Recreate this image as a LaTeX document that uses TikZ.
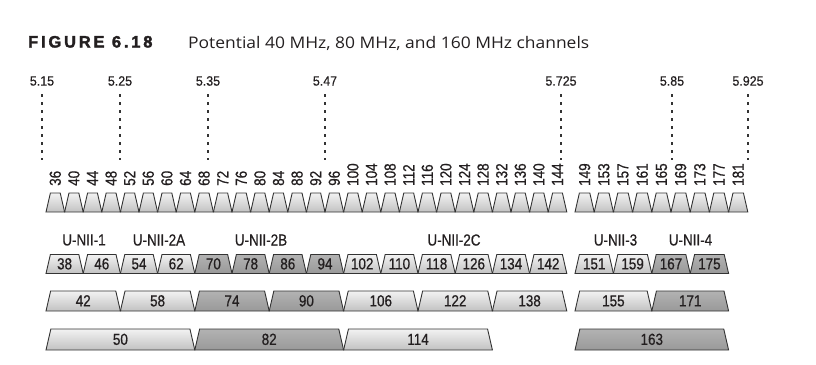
\documentclass[tikz,border=0pt]{standalone}
\usepackage{fontspec}
\setmainfont{Liberation Sans}
\newfontfamily\condfont{Liberation Sans}[FakeStretch=0.84,FakeBold=0.6]
\newfontfamily\freqfont{Liberation Sans}[FakeStretch=0.92,FakeBold=0.4]
\newfontfamily\capfont{Open Sans}[FakeStretch=1.09]
\newfontfamily\figfont{Liberation Sans}[LetterSpace=17,FakeBold=2]
\usetikzlibrary{shapes.geometric,positioning}

\definecolor{edgegray}{HTML}{333333}
\definecolor{inkgray}{HTML}{231F20}

\tikzset{
  chan/.style={trapezium, trapezium stretches body,
    trapezium left angle=77, trapezium right angle=77,
    draw=edgegray, line width=0.9pt, inner sep=0pt, outer sep=0pt,
    anchor=bottom left corner, text=inkgray,
    font=\condfont\fontsize{16}{16}\selectfont},
  row19/.style={text height=14.85pt, text depth=4.15pt},
  row20/.style={text height=15.35pt, text depth=4.65pt},
  row21/.style={text height=15.85pt, text depth=5.15pt},
  lite/.style={top color=black!5, bottom color=black!24},
  dfs/.style={top color=black!30, bottom color=black!40},
  chnum/.style={rotate=90, anchor=west, inner sep=0pt, text=inkgray,
    font=\condfont\fontsize{16}{16}\selectfont},
  band/.style={text=inkgray, inner sep=0pt,
    font=\condfont\fontsize{16}{16}\selectfont},
  freq/.style={text=inkgray, inner sep=0pt,
    font=\freqfont\fontsize{13.5}{14}\selectfont},
  freqline/.style={draw=edgegray, line width=1.3pt, dash pattern=on 3pt off 5pt}
}

\begin{document}
\begin{tikzpicture}[x=1pt,y=-1pt]
\useasboundingbox (0,0) rectangle (816,364);

% caption
\node[anchor=base west, inner sep=0pt, text=inkgray,
  font=\figfont\bfseries\fontsize{16.5}{17}\selectfont] (fig) at (28,47.5) {FIGURE 6.18};
\node[anchor=base west, inner sep=0pt, text=inkgray,
  font=\capfont\fontsize{16}{17}\selectfont] (cap) at (188,48) {Potential 40 MHz, 80 MHz, and 160 MHz channels};

% band edges in GHz
\foreach \x/\f in {42/5.15,120/5.25,208/5.35,325/5.47,561/5.725,672/5.85,748/5.925} {
  \node[freq] (f\x) at (\x,81) {\f};
  \draw[freqline] (\x,94) -- (\x,160);
}

% 20 MHz
\foreach \c [count=\i from 0] in {36,40,...,144} {
  \node[chan, lite, row19, minimum width=18.6pt] (a\c) at ({46+18.6*\i},212) {};
  \node[chnum] (n\c) at ([yshift=7pt]a\c.north) {\c};
}
\foreach \c [count=\i from 0] in {149,153,...,181} {
  \node[chan, lite, row19, minimum width=19.2pt] (a\c) at ({575+19.2*\i},212) {};
  \node[chnum] (n\c) at ([yshift=7pt]a\c.north) {\c};
}

% U-NII bands
\node[band] (u1) at (84,240) {U-NII-1};
\node[band] (u2a) at (159,240) {U-NII-2A};
\node[band] (u2b) at (261,240) {U-NII-2B};
\node[band] (u2c) at (454,240) {U-NII-2C};
\node[band] (u3) at (615.5,240) {U-NII-3};
\node[band] (u4) at (690.5,240) {U-NII-4};

% 40 MHz
\foreach \c/\s [count=\i from 0] in {38/lite,46/lite,54/lite,62/lite,70/dfs,78/dfs,86/dfs,94/dfs,
    102/lite,110/lite,118/lite,126/lite,134/lite,142/lite}
  \node[chan, \s, row19, minimum width=37.2pt] (b\c) at ({46+37.2*\i},273.5) {\c};
\foreach \c/\s [count=\i from 0] in {151/lite,159/lite,167/dfs,175/dfs}
  \node[chan, \s, row19, minimum width=38.4pt] (b\c) at ({575+38.4*\i},273.5) {\c};

% 80 MHz
\foreach \c/\s [count=\i from 0] in {42/lite,58/lite,74/dfs,90/dfs,106/lite,122/lite,138/lite}
  \node[chan, \s, row20, minimum width=74.4pt] (d\c) at ({46+74.4*\i},311) {\c};
\foreach \c/\s [count=\i from 0] in {155/lite,171/dfs}
  \node[chan, \s, row20, minimum width=76.8pt] (d\c) at ({575+76.8*\i},311) {\c};

% 160 MHz
\foreach \c/\s [count=\i from 0] in {50/lite,82/dfs,114/lite}
  \node[chan, \s, row21, minimum width=148.8pt] (e\c) at ({46+148.8*\i},350) {\c};
\node[chan, dfs, row21, minimum width=153.6pt] (e163) at (575,350) {163};

\end{tikzpicture}
\end{document}
